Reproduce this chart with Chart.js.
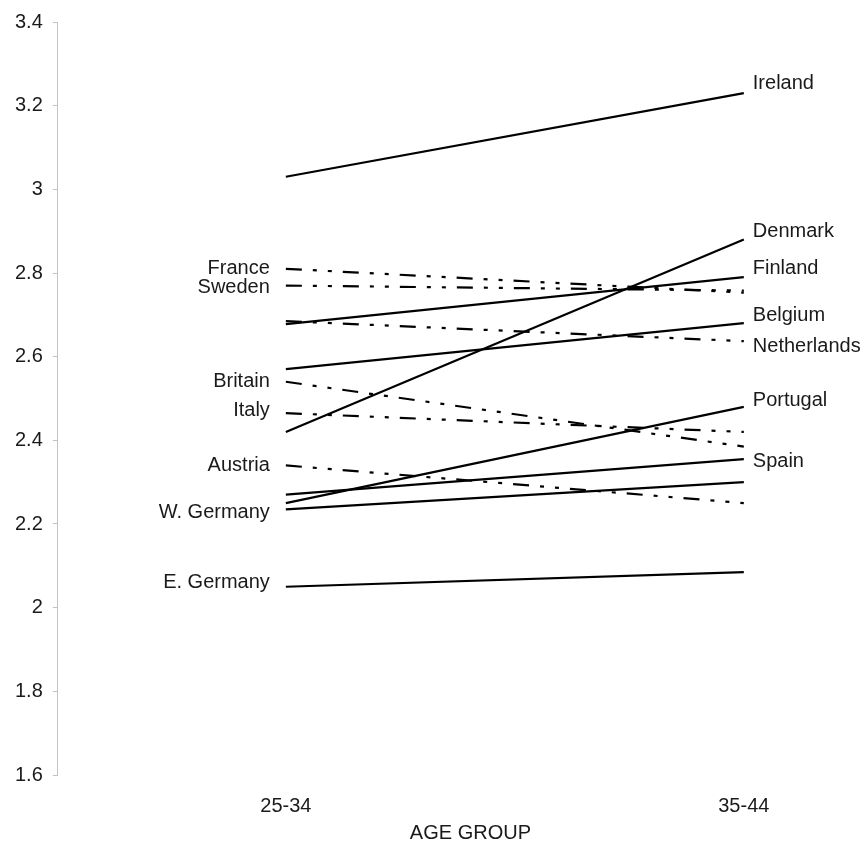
<!DOCTYPE html>
<html>
<head>
<meta charset="utf-8">
<script src="https://cdn.jsdelivr.net/npm/chart.js@4.4.0/dist/chart.umd.min.js"></script>
<style>
  body { margin: 0; background: #fff; overflow: hidden; }
</style>
</head>
<body>
<canvas id="ageChart" width="867" height="845"></canvas>
<script>
// age groups on the x axis
const ageGroups = ['25-34', '35-44'];

// countries, one line each
const countries = ['Ireland', 'Denmark', 'Finland', 'France', 'Sweden', 'Belgium', 'Netherlands',
  'Britain', 'Italy', 'Portugal', 'Spain', 'Austria', 'W. Germany', 'E. Germany'];

// values
const age25to34 = [3.03, 2.42, 2.678, 2.81, 2.77, 2.57, 2.685, 2.54, 2.465, 2.25, 2.27, 2.34, 2.235, 2.05];
const age35to44 = [3.23, 2.88, 2.79, 2.753, 2.758, 2.68, 2.637, 2.385, 2.42, 2.48, 2.355, 2.25, 2.30, 2.085];

// which countries use the dash-dot-dot line
const dashed = ['France', 'Sweden', 'Netherlands', 'Britain', 'Italy', 'Austria'];
// which side the name is written on
const leftNames = ['France', 'Sweden', 'Britain', 'Italy', 'Austria', 'W. Germany', 'E. Germany'];
// small vertical nudges of the name labels (px) so they don't collide
const nameNudge = {
  'Ireland': -10, 'Denmark': -8, 'Finland': -9, 'Belgium': -8, 'Netherlands': 5,
  'Portugal': -6, 'Spain': 2, 'Sweden': 2, 'Italy': -3, 'W. Germany': 3, 'E. Germany': -4
};

const FONT = 'Liberation Sans, Arial, sans-serif';
const TEXT = '#1a1a1a';

const datasets = countries.map((name, i) => ({
  label: name,
  data: [{ x: 0, y: age25to34[i] }, { x: 1, y: age35to44[i] }],
  borderColor: '#000',
  borderWidth: 2.2,
  borderDash: dashed.includes(name) ? [16, 11, 4, 11, 4, 11] : [],
  pointRadius: 0,
  fill: false
}));

// write country names next to the line ends, and the axis title
const nameLabels = {
  id: 'nameLabels',
  afterDatasetsDraw(chart) {
    const ctx = chart.ctx;
    const xs = chart.scales.x, ys = chart.scales.y;
    ctx.save();
    ctx.font = '20px ' + FONT;
    ctx.fillStyle = TEXT;
    ctx.textBaseline = 'middle';
    countries.forEach((name, i) => {
      const nudge = nameNudge[name] || 0;
      if (leftNames.includes(name)) {
        ctx.textAlign = 'right';
        ctx.fillText(name, xs.getPixelForValue(0) - 16, ys.getPixelForValue(age25to34[i]) + nudge);
      } else {
        ctx.textAlign = 'left';
        ctx.fillText(name, xs.getPixelForValue(1) + 9, ys.getPixelForValue(age35to44[i]) + nudge);
      }
    });
    // x axis title, a little right of the plot centre as in the original
    ctx.textAlign = 'center';
    ctx.fillText('AGE GROUP', xs.getPixelForValue(0.403), xs.bottom - 12);
    ctx.restore();
  }
};

const ctx = document.getElementById('ageChart').getContext('2d');
const chart = new Chart(ctx, {
  type: 'line',
  data: { datasets: datasets },
  options: {
    responsive: false,
    animation: false,
    devicePixelRatio: 1,
    layout: { padding: { left: 5, top: 17, right: 0, bottom: 0 } },
    plugins: { legend: { display: false }, tooltip: { enabled: false } },
    scales: {
      x: {
        type: 'linear',
        min: -0.498,
        max: 1.269,
        afterBuildTicks: (scale) => { scale.ticks = [{ value: 0 }, { value: 1 }]; },
        afterFit: (scale) => { scale.height = 70; },
        grid: { display: false, drawTicks: false, tickLength: 0 },
        border: { display: false },
        ticks: {
          callback: (v) => ageGroups[v],
          font: { family: FONT, size: 20 },
          color: TEXT,
          padding: 19,
          maxRotation: 0
        },
        title: { display: false }
      },
      y: {
        min: 1.6,
        max: 3.4,
        ticks: {
          stepSize: 0.2,
          callback: (v) => String(Number(v.toFixed(1))),
          font: { family: FONT, size: 20 },
          color: TEXT,
          padding: 10
        },
        grid: { drawOnChartArea: false, drawTicks: true, tickLength: 5, color: '#c4c4c4' },
        border: { display: true, color: '#c4c4c4', width: 1 }
      }
    }
  },
  plugins: [nameLabels]
});
</script>
</body>
</html>
